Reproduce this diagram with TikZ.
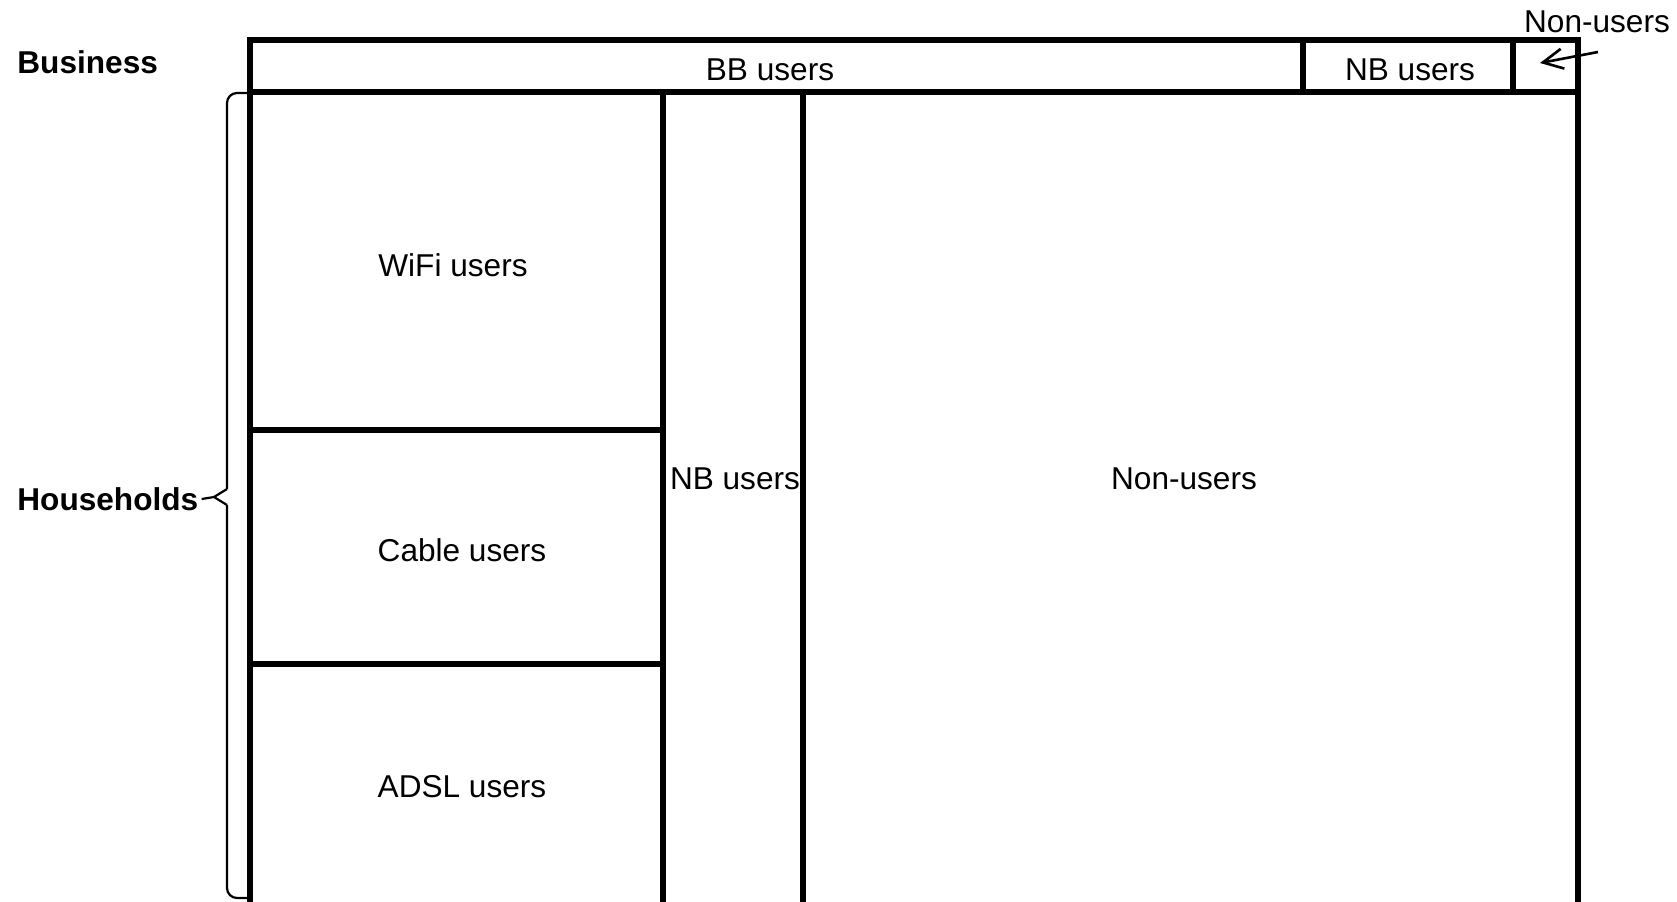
\documentclass[tikz,border=0pt]{standalone}
\usepackage{fontspec}
\setmainfont{Liberation Sans}
\usetikzlibrary{arrows.meta}
\begin{document}
\begin{tikzpicture}[x=0.5pt,y=-0.5pt,
  grid/.style={line width=3pt},
  thin line/.style={line width=1.1pt},
  lbl/.style={inner sep=0pt,font=\fontsize{15.8}{19}\selectfont},
  head/.style={lbl,font=\fontsize{15.8}{19}\selectfont\bfseries,anchor=west}]
\useasboundingbox (0,0) rectangle (1677,901);
\clip (0,0) rectangle (1677,901);
% frame corners
\coordinate (tl) at (250,40);
\coordinate (tr) at (1578,40);
\coordinate (bl) at (250,910);
\coordinate (br) at (1578,910);
% business row
\draw[grid] (bl) -- (tl) -- (tr) -- (br);
\draw[grid] (250,92) -- (1578,92);
\draw[grid] (1303,40) -- (1303,92);
\draw[grid] (1513,40) -- (1513,92);
% household columns
\draw[grid] (663,92) -- (663,910);
\draw[grid] (803,92) -- (803,910);
\draw[grid] (250,430) -- (663,430);
\draw[grid] (250,664) -- (663,664);
% cell texts
\node[lbl] (bb) at (770,70) {BB users};
\node[lbl] (nbb) at (1410,70) {NB users};
\node[lbl] (wifi) at (453,265) {WiFi users};
\node[lbl] (cable) at (462,550) {Cable users};
\node[lbl] (adsl) at (462,787) {ADSL users};
\node[lbl] (nbh) at (735,479) {NB users};
\node[lbl] (nonh) at (1184,479) {Non-users};
% side headings
\node[head] (business) at (17,62) {Business};
\node[head] (households) at (17,499) {Households};
% brace for households
\coordinate (btop) at (250,93);
\coordinate (bbot) at (250,898);
\coordinate (btip) at (214,497);
\draw[thin line,rounded corners=5pt] (btop) -- (227,93) -- (227,489);
\draw[thin line] (227,489) -- (btip) -- (227,505);
\draw[thin line,rounded corners=5pt] (227,505) -- (227,898) -- (bbot);
\draw[thin line] (households.east) ++(3,0) -- (btip);
% business non-users callout
\node[lbl] (nonb) at (1597,22) {Non-users};
\coordinate (nbtip) at (1540,63);
\coordinate (nbstart) at (1598,52);
\draw[line width=1.3pt,-{Straight Barb[length=10pt,width=10pt,line width=1.3pt]}] (nbstart) -- (nbtip);
\end{tikzpicture}
\end{document}
